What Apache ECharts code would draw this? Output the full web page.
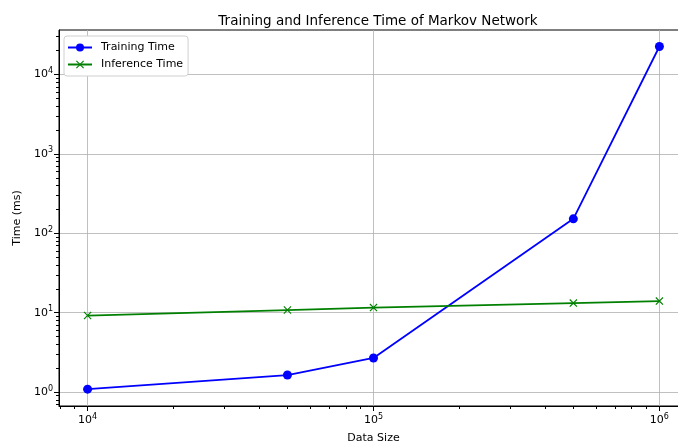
<!DOCTYPE html>
<html><head><meta charset="utf-8">
<script src="https://cdn.jsdelivr.net/npm/echarts@6/dist/echarts.min.js"></script>
<style>html,body{margin:0;padding:0;background:#fff}#c{width:678px;height:445px}</style>
</head><body><div id="c"></div>
<script>
const dataSizes = [10000, 50000, 100000, 500000, 1000000];
const trainingTime = [1.09, 1.64, 2.69, 152, 22500];
const inferenceTime = [9.2, 10.8, 11.6, 13.2, 14.0];
const xMajorTicks = [1e4, 1e5, 1e6];
const yMajorTicks = [1, 10, 100, 1000, 10000];
const xMinorTicks = [8e3, 9e3, 2e4, 3e4, 4e4, 5e4, 6e4, 7e4, 8e4, 9e4, 2e5, 3e5, 4e5, 5e5, 6e5, 7e5, 8e5, 9e5];
const yMinorTicks = [0.7, 0.8, 0.9, 2, 3, 4, 5, 6, 7, 8, 9, 20, 30, 40, 50, 60, 70, 80, 90, 200, 300, 400, 500, 600, 700, 800, 900, 2000, 3000, 4000, 5000, 6000, 7000, 8000, 9000, 20000, 30000];
const titleText = 'Training and Inference Time of Markov Network';
const xName = 'Data Size';
const yName = 'Time (ms)';

const FONT = 'DejaVu Sans';
const xMin = Math.pow(10, 3.9), xMax = Math.pow(10, 6.1);
const yMin = Math.pow(10, -0.175), yMax = Math.pow(10, 4.56);
function supFmt(v) {
  const e = Math.round(Math.log10(v));
  return '{b|10}{s|' + e + '}';
}
const rich = { b: { fontSize: 11, fontFamily: FONT, color: '#000' }, s: { fontSize: 8, fontFamily: FONT, color: '#000', padding: [0, 0, 7, 0] } };
const chart = echarts.init(document.getElementById('c'));
const xCross = 'path://M1,0L5,4L9,0L10,1L6,5L10,9L9,10L5,6L1,10L0,9L4,5L0,1Z';
chart.setOption({
  animation: false,
  title: { text: titleText, left: 373, top: 9, textAlign: 'center', textStyle: { fontFamily: FONT, fontSize: 13.5, fontWeight: 'normal', color: '#000' } },
  grid: { left: 59, top: 30, width: 629, height: 376, show: true, borderColor: '#000', borderWidth: 1, backgroundColor: 'transparent', containLabel: false, outerBoundsMode: 'none' },
  legend: {
    left: 64, top: 36, orient: 'vertical', backgroundColor: '#fff', borderColor: '#d0d0d0', borderWidth: 1, borderRadius: 3,
    padding: [6, 5, 6, 3], itemGap: 6, itemWidth: 24, itemHeight: 10,
    textStyle: { fontFamily: FONT, fontSize: 11, color: '#000', padding: [0, 0, 0, 4] },
    data: ['Training Time', 'Inference Time']
  },
  xAxis: [{
    type: 'log', min: xMin, max: xMax, position: 'bottom',
    name: xName, nameLocation: 'middle', nameGap: 27, nameTextStyle: { fontFamily: FONT, fontSize: 11, color: '#000' },
    axisLine: { lineStyle: { color: '#000', width: 1 } },
    axisTick: { customValues: xMajorTicks, length: 5, lineStyle: { color: '#000' } },
    axisLabel: { customValues: xMajorTicks, formatter: supFmt, rich: rich, margin: 7 },
    splitLine: { show: true, lineStyle: { color: '#b0b0b0', width: 0.8 } }
  }, {
    type: 'log', min: xMin, max: xMax, position: 'bottom', gridIndex: 0,
    axisLine: { show: false },
    axisTick: { customValues: xMinorTicks, length: 3, lineStyle: { color: '#000' } },
    axisLabel: { show: false }, splitLine: { show: false }
  }],
  yAxis: [{
    type: 'log', min: yMin, max: yMax, position: 'left',
    name: yName, nameLocation: 'middle', nameGap: 32, nameTextStyle: { fontFamily: FONT, fontSize: 11, color: '#000' },
    axisLine: { show: true, lineStyle: { color: '#000', width: 1 } },
    axisTick: { show: true, customValues: yMajorTicks, length: 5, lineStyle: { color: '#000' } },
    axisLabel: { customValues: yMajorTicks, formatter: supFmt, rich: rich, margin: 6 },
    splitLine: { show: true, lineStyle: { color: '#b0b0b0', width: 0.8 } }
  }, {
    type: 'log', min: yMin, max: yMax, position: 'left', gridIndex: 0,
    axisLine: { show: false },
    axisTick: { show: true, customValues: yMinorTicks, length: 3, lineStyle: { color: '#000' } },
    axisLabel: { show: false }, splitLine: { show: false }
  }],
  series: [{
    name: 'Training Time', type: 'line', data: dataSizes.map((x, i) => [x, trainingTime[i]]),
    symbol: 'circle', symbolSize: 9, color: '#0000ff', lineStyle: { width: 1.8, color: '#0000ff' }, itemStyle: { color: '#0000ff' }
  }, {
    name: 'Inference Time', type: 'line', data: dataSizes.map((x, i) => [x, inferenceTime[i]]),
    symbol: xCross, symbolSize: 8, color: '#008000', lineStyle: { width: 1.8, color: '#008000' }, itemStyle: { color: '#008000' }
  }]
});
</script></body></html>
